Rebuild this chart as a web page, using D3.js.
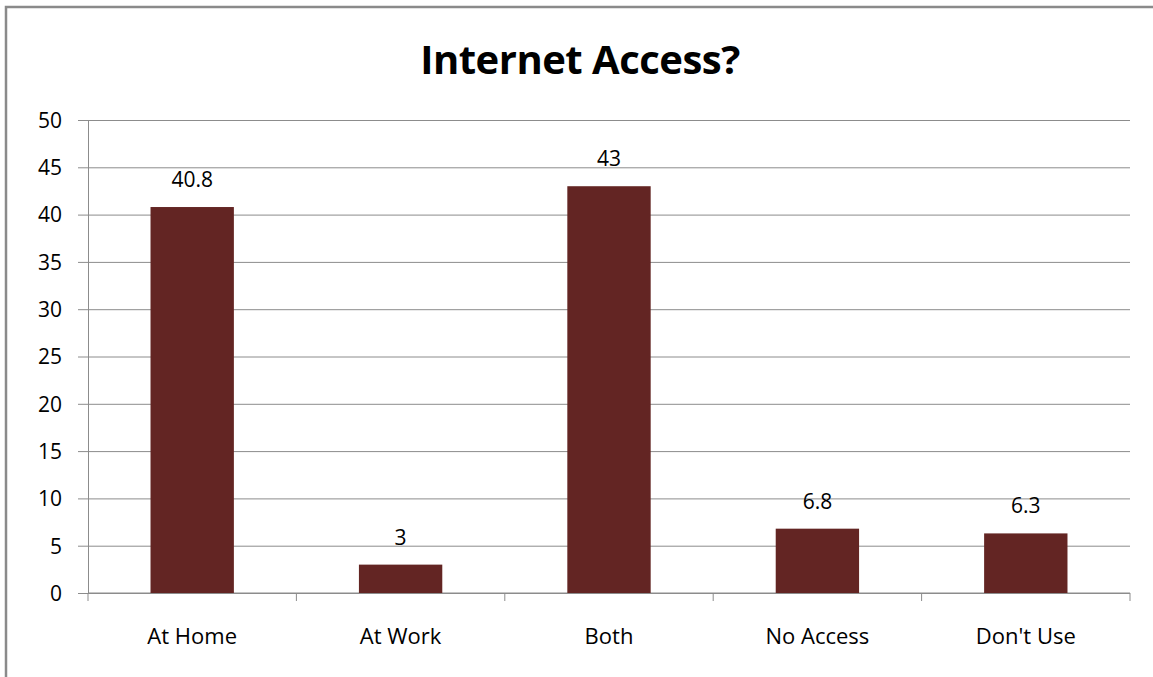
<!DOCTYPE html>
<html>
<head>
<meta charset="utf-8">
<script src="https://cdn.jsdelivr.net/npm/d3@7"></script>
<style>
  body { margin: 0; background: #fff; }
  text { font-family: "Open Sans", "Liberation Sans", sans-serif; fill: #000; }
</style>
</head>
<body>
<svg></svg>
<script>
// chart size
const width = 1153,
    height = 677;

const categories = ["At Home", "At Work", "Both", "No Access", "Don't Use"];
const values = [40.8, 3, 43, 6.8, 6.3];
const yTicks = [0, 5, 10, 15, 20, 25, 30, 35, 40, 45, 50];

const margin = { left: 88, right: 23, top: 120, bottom: 84 };

const svg = d3.select("svg")
    .attr("width", width)
    .attr("height", height);

// outer frame (only left and top edges are in view)
svg.append("path")
    .attr("d", `M6,${height} V7 H${width}`)
    .attr("fill", "none")
    .attr("stroke", "#8a8a8a")
    .attr("stroke-width", 2.5);

const x = d3.scaleBand()
    .domain(categories)
    .range([margin.left, width - margin.right])
    .padding(0);

const y = d3.scaleLinear()
    .domain([0, 50])
    .range([height - margin.bottom, margin.top]);

// title
svg.append("text")
    .attr("x", 580)
    .attr("y", 74)
    .attr("text-anchor", "middle")
    .style("font-size", "40px")
    .style("font-weight", "bold")
    .style("letter-spacing", "-0.5px")
    .text("Internet Access?");

// gridlines + y axis
const yAxis = d3.axisLeft(y)
    .tickValues(yTicks)
    .tickSize(-(width - margin.left - margin.right))
    .tickPadding(26);

const yg = svg.append("g")
    .attr("transform", `translate(${margin.left},0)`)
    .call(yAxis);
yg.select(".domain").attr("stroke", "#8c8c8c");
yg.selectAll(".tick line")
    .attr("stroke", "#8c8c8c")
    .attr("x1", -10);
yg.selectAll(".tick text")
    .style("font-size", "21px")
    .attr("dy", "0.35em");

// x axis with boundary ticks
const xg = svg.append("g")
    .attr("transform", `translate(0,${y(0)})`);
xg.append("line")
    .attr("x1", margin.left)
    .attr("x2", width - margin.right)
    .attr("stroke", "#8c8c8c");
const bounds = categories.map(c => x(c)).concat([x(categories[categories.length - 1]) + x.bandwidth()]);
xg.selectAll(".bt")
    .data(bounds)
    .enter()
    .append("line")
    .attr("class", "bt")
    .attr("x1", d => d)
    .attr("x2", d => d)
    .attr("y1", 0)
    .attr("y2", 8)
    .attr("stroke", "#8c8c8c");
xg.selectAll(".xl")
    .data(categories)
    .enter()
    .append("text")
    .attr("class", "xl")
    .attr("x", d => x(d) + x.bandwidth() / 2)
    .attr("y", 51)
    .attr("text-anchor", "middle")
    .style("font-size", "22px")
    .text(d => d);

// bars
const barW = x.bandwidth() * 0.4;
svg.selectAll(".bar")
    .data(categories)
    .enter()
    .append("rect")
    .attr("class", "bar")
    .attr("x", d => x(d) + (x.bandwidth() - barW) / 2)
    .attr("y", (d, i) => y(values[i]))
    .attr("width", barW)
    .attr("height", (d, i) => y(0) - y(values[i]))
    .attr("fill", "#632523");

// value labels
svg.selectAll(".val")
    .data(categories)
    .enter()
    .append("text")
    .attr("class", "val")
    .attr("x", d => x(d) + x.bandwidth() / 2)
    .attr("y", (d, i) => y(values[i]) - 20)
    .attr("text-anchor", "middle")
    .style("font-size", "21px")
    .text((d, i) => values[i]);
</script>
</body>
</html>
